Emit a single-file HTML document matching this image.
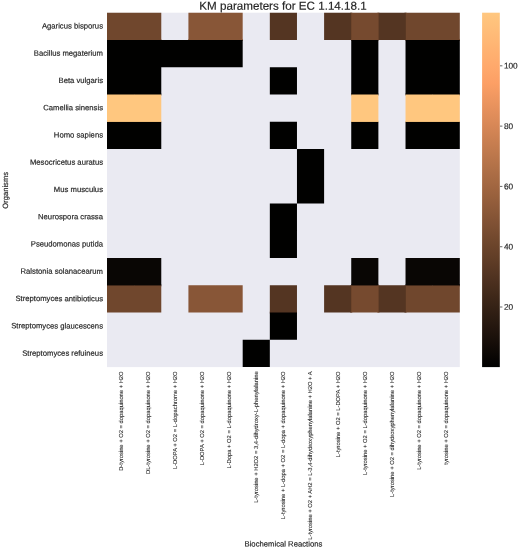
<!DOCTYPE html><html><head><meta charset="utf-8"><style>html,body{margin:0;padding:0;background:#fff}svg{display:block}text{font-family:"Liberation Sans",sans-serif;fill:#262626;text-rendering:geometricPrecision}</style></head><body>
<svg width="520" height="548" viewBox="0 0 520 548">
<rect width="520" height="548" fill="#fff"/>
<rect x="107.00" y="12.70" width="352.80" height="354.40" fill="#eaeaf2"/>
<rect x="107.00" y="38.96" width="27.14" height="2" fill="#70472d"/>
<rect x="134.14" y="38.96" width="27.14" height="2" fill="#70472d"/>
<rect x="188.42" y="38.96" width="27.14" height="2" fill="#885637"/>
<rect x="215.55" y="38.96" width="27.14" height="2" fill="#885637"/>
<rect x="350.25" y="12.70" width="2" height="27.26" fill="#543522"/>
<rect x="377.38" y="12.70" width="2" height="27.26" fill="#764a2f"/>
<rect x="351.25" y="38.96" width="27.14" height="2" fill="#764a2f"/>
<rect x="404.52" y="12.70" width="2" height="27.26" fill="#543522"/>
<rect x="405.52" y="38.96" width="27.14" height="2" fill="#70472d"/>
<rect x="432.66" y="38.96" width="27.14" height="2" fill="#70472d"/>
<rect x="107.00" y="93.48" width="27.14" height="2" fill="#010100"/>
<rect x="134.14" y="93.48" width="27.14" height="2" fill="#010100"/>
<rect x="351.25" y="93.48" width="27.14" height="2" fill="#010100"/>
<rect x="405.52" y="93.48" width="27.14" height="2" fill="#010100"/>
<rect x="432.66" y="93.48" width="27.14" height="2" fill="#010100"/>
<rect x="107.00" y="120.75" width="27.14" height="2" fill="#ffc77f"/>
<rect x="134.14" y="120.75" width="27.14" height="2" fill="#ffc77f"/>
<rect x="351.25" y="120.75" width="27.14" height="2" fill="#ffc77f"/>
<rect x="405.52" y="120.75" width="27.14" height="2" fill="#ffc77f"/>
<rect x="432.66" y="120.75" width="27.14" height="2" fill="#ffc77f"/>
<rect x="107.00" y="284.32" width="27.14" height="2" fill="#090604"/>
<rect x="134.14" y="284.32" width="27.14" height="2" fill="#090604"/>
<rect x="351.25" y="284.32" width="27.14" height="2" fill="#090604"/>
<rect x="405.52" y="284.32" width="27.14" height="2" fill="#090604"/>
<rect x="432.66" y="284.32" width="27.14" height="2" fill="#090604"/>
<rect x="269.83" y="311.58" width="27.14" height="2" fill="#543522"/>
<rect x="350.25" y="285.32" width="2" height="27.26" fill="#543522"/>
<rect x="377.38" y="285.32" width="2" height="27.26" fill="#764a2f"/>
<rect x="404.52" y="285.32" width="2" height="27.26" fill="#543522"/>
<path d="M107.000 12.700H134.138V39.962H107.000ZM134.138 12.700H161.277V39.962H134.138ZM405.523 12.700H432.662V39.962H405.523ZM432.662 12.700H459.800V39.962H432.662ZM107.000 285.315H134.138V312.577H107.000ZM134.138 285.315H161.277V312.577H134.138ZM405.523 285.315H432.662V312.577H405.523ZM432.662 285.315H459.800V312.577H432.662Z" fill="#70472d"/>
<path d="M188.415 12.700H215.554V39.962H188.415ZM215.554 12.700H242.692V39.962H215.554ZM188.415 285.315H215.554V312.577H188.415ZM215.554 285.315H242.692V312.577H215.554Z" fill="#885637"/>
<path d="M269.831 12.700H296.969V39.962H269.831ZM324.108 12.700H351.246V39.962H324.108ZM378.385 12.700H405.523V39.962H378.385ZM269.831 285.315H296.969V312.577H269.831ZM324.108 285.315H351.246V312.577H324.108ZM378.385 285.315H405.523V312.577H378.385Z" fill="#543522"/>
<path d="M351.246 12.700H378.385V39.962H351.246ZM351.246 285.315H378.385V312.577H351.246Z" fill="#764a2f"/>
<path d="M107.000 39.962H134.138V67.223H107.000ZM134.138 39.962H161.277V67.223H134.138ZM161.277 39.962H188.415V67.223H161.277ZM188.415 39.962H215.554V67.223H188.415ZM215.554 39.962H242.692V67.223H215.554ZM351.246 39.962H378.385V67.223H351.246ZM405.523 39.962H432.662V67.223H405.523ZM432.662 39.962H459.800V67.223H432.662ZM107.000 67.223H134.138V94.485H107.000ZM134.138 67.223H161.277V94.485H134.138ZM269.831 67.223H296.969V94.485H269.831ZM351.246 67.223H378.385V94.485H351.246ZM405.523 67.223H432.662V94.485H405.523ZM432.662 67.223H459.800V94.485H432.662ZM107.000 121.746H134.138V149.008H107.000ZM134.138 121.746H161.277V149.008H134.138ZM269.831 121.746H296.969V149.008H269.831ZM351.246 121.746H378.385V149.008H351.246ZM405.523 121.746H432.662V149.008H405.523ZM432.662 121.746H459.800V149.008H432.662ZM296.969 149.008H324.108V176.269H296.969ZM296.969 176.269H324.108V203.531H296.969ZM269.831 203.531H296.969V230.792H269.831ZM269.831 230.792H296.969V258.054H269.831ZM269.831 312.577H296.969V339.838H269.831ZM242.692 339.838H269.831V367.100H242.692Z" fill="#010100"/>
<path d="M107.000 94.485H134.138V121.746H107.000ZM134.138 94.485H161.277V121.746H134.138ZM351.246 94.485H378.385V121.746H351.246ZM405.523 94.485H432.662V121.746H405.523ZM432.662 94.485H459.800V121.746H432.662Z" fill="#ffc77f"/>
<path d="M107.000 258.054H134.138V285.315H107.000ZM134.138 258.054H161.277V285.315H134.138ZM351.246 258.054H378.385V285.315H351.246ZM405.523 258.054H432.662V285.315H405.523ZM432.662 258.054H459.800V285.315H432.662Z" fill="#090604"/>
<defs><linearGradient id="cb" x1="0" y1="1" x2="0" y2="0">
<stop offset="0.000" stop-color="#000000"/>
<stop offset="0.050" stop-color="#100a06"/>
<stop offset="0.100" stop-color="#20140d"/>
<stop offset="0.150" stop-color="#2f1e13"/>
<stop offset="0.200" stop-color="#3f2819"/>
<stop offset="0.250" stop-color="#4f3220"/>
<stop offset="0.300" stop-color="#5f3c26"/>
<stop offset="0.350" stop-color="#6e462c"/>
<stop offset="0.400" stop-color="#7e5033"/>
<stop offset="0.450" stop-color="#8e5a39"/>
<stop offset="0.500" stop-color="#9e643f"/>
<stop offset="0.550" stop-color="#ad6e46"/>
<stop offset="0.600" stop-color="#bd784c"/>
<stop offset="0.650" stop-color="#cd8152"/>
<stop offset="0.700" stop-color="#dd8b59"/>
<stop offset="0.750" stop-color="#ec955f"/>
<stop offset="0.800" stop-color="#fc9f65"/>
<stop offset="0.850" stop-color="#ffa96c"/>
<stop offset="0.900" stop-color="#ffb372"/>
<stop offset="0.950" stop-color="#ffbd79"/>
<stop offset="1.000" stop-color="#ffc77f"/>
</linearGradient></defs>
<rect x="482.10" y="12.70" width="17.70" height="354.40" fill="url(#cb)"/>
<g opacity="0.999">
<line x1="500.00" x2="502.40" y1="307.01" y2="307.01" stroke="#262626" stroke-width="0.7"/>
<text transform="translate(503.90,309.81) rotate(0.03)" font-size="8.25" stroke="#262626" stroke-width="0.18">20</text>
<line x1="500.00" x2="502.40" y1="246.72" y2="246.72" stroke="#262626" stroke-width="0.7"/>
<text transform="translate(503.90,249.52) rotate(0.03)" font-size="8.25" stroke="#262626" stroke-width="0.18">40</text>
<line x1="500.00" x2="502.40" y1="186.42" y2="186.42" stroke="#262626" stroke-width="0.7"/>
<text transform="translate(503.90,189.22) rotate(0.03)" font-size="8.25" stroke="#262626" stroke-width="0.18">60</text>
<line x1="500.00" x2="502.40" y1="126.12" y2="126.12" stroke="#262626" stroke-width="0.7"/>
<text transform="translate(503.90,128.92) rotate(0.03)" font-size="8.25" stroke="#262626" stroke-width="0.18">80</text>
<line x1="500.00" x2="502.40" y1="65.82" y2="65.82" stroke="#262626" stroke-width="0.7"/>
<text transform="translate(503.90,68.62) rotate(0.03)" font-size="8.25" stroke="#262626" stroke-width="0.18">100</text>
<text transform="translate(283.00,9.8) rotate(0.03)" font-size="11.64" text-anchor="middle" stroke="#262626" stroke-width="0.18">KM parameters for EC 1.14.18.1</text>
<text transform="translate(103.00,28.53) rotate(0.03)" font-size="7.7" text-anchor="end" stroke="#262626" stroke-width="0.18">Agaricus bisporus</text>
<text transform="translate(103.00,55.79) rotate(0.03)" font-size="7.7" text-anchor="end" stroke="#262626" stroke-width="0.18">Bacillus megaterium</text>
<text transform="translate(103.00,83.05) rotate(0.03)" font-size="7.7" text-anchor="end" stroke="#262626" stroke-width="0.18">Beta vulgaris</text>
<text transform="translate(103.00,110.32) rotate(0.03)" font-size="7.7" text-anchor="end" stroke="#262626" stroke-width="0.18">Camellia sinensis</text>
<text transform="translate(103.00,137.58) rotate(0.03)" font-size="7.7" text-anchor="end" stroke="#262626" stroke-width="0.18">Homo sapiens</text>
<text transform="translate(103.00,164.84) rotate(0.03)" font-size="7.7" text-anchor="end" stroke="#262626" stroke-width="0.18">Mesocricetus auratus</text>
<text transform="translate(103.00,192.10) rotate(0.03)" font-size="7.7" text-anchor="end" stroke="#262626" stroke-width="0.18">Mus musculus</text>
<text transform="translate(103.00,219.36) rotate(0.03)" font-size="7.7" text-anchor="end" stroke="#262626" stroke-width="0.18">Neurospora crassa</text>
<text transform="translate(103.00,246.62) rotate(0.03)" font-size="7.7" text-anchor="end" stroke="#262626" stroke-width="0.18">Pseudomonas putida</text>
<text transform="translate(103.00,273.88) rotate(0.03)" font-size="7.7" text-anchor="end" stroke="#262626" stroke-width="0.18">Ralstonia solanacearum</text>
<text transform="translate(103.00,301.15) rotate(0.03)" font-size="7.7" text-anchor="end" stroke="#262626" stroke-width="0.18">Streptomyces antibioticus</text>
<text transform="translate(103.00,328.41) rotate(0.03)" font-size="7.7" text-anchor="end" stroke="#262626" stroke-width="0.18">Streptomyces glaucescens</text>
<text transform="translate(103.00,355.67) rotate(0.03)" font-size="7.7" text-anchor="end" stroke="#262626" stroke-width="0.18">Streptomyces refuineus</text>
<text transform="translate(122.52,371.40) rotate(-90)" font-size="5.8" stroke="#262626" stroke-width="0.08" text-anchor="end">D-tyrosine + O2 = dopaquinone + H2O</text>
<text transform="translate(149.66,371.40) rotate(-90)" font-size="5.8" stroke="#262626" stroke-width="0.08" text-anchor="end">DL-tyrosine + O2 = dopaquinone + H2O</text>
<text transform="translate(176.80,371.40) rotate(-90)" font-size="5.8" stroke="#262626" stroke-width="0.08" text-anchor="end">L-DOPA + O2 = L-dopachrome + H2O</text>
<text transform="translate(203.93,371.40) rotate(-90)" font-size="5.8" stroke="#262626" stroke-width="0.08" text-anchor="end">L-DOPA + O2 = dopaquinone + H2O</text>
<text transform="translate(231.07,371.40) rotate(-90)" font-size="5.8" stroke="#262626" stroke-width="0.08" text-anchor="end">L-Dopa + O2 = L-dopaquinone + H2O</text>
<text transform="translate(258.21,371.40) rotate(-90)" font-size="5.8" stroke="#262626" stroke-width="0.08" text-anchor="end">L-tyrosine + H2O2 = 3,4-dihydroxy-L-phenylalanine</text>
<text transform="translate(285.35,371.40) rotate(-90)" font-size="5.8" stroke="#262626" stroke-width="0.08" text-anchor="end">L-tyrosine + L-dopa + O2 = L-dopa + dopaquinone + H2O</text>
<text transform="translate(312.49,371.40) rotate(-90)" font-size="5.8" stroke="#262626" stroke-width="0.08" text-anchor="end">L-tyrosine + O2 + AH2 = L-3,4-dihydroxyphenylalanine + H2O + A</text>
<text transform="translate(339.63,371.40) rotate(-90)" font-size="5.8" stroke="#262626" stroke-width="0.08" text-anchor="end">L-tyrosine + O2 = L-DOPA + H2O</text>
<text transform="translate(366.77,371.40) rotate(-90)" font-size="5.8" stroke="#262626" stroke-width="0.08" text-anchor="end">L-tyrosine + O2 = L-dopaquinone + H2O</text>
<text transform="translate(393.90,371.40) rotate(-90)" font-size="5.8" stroke="#262626" stroke-width="0.08" text-anchor="end">L-tyrosine + O2 = dihydroxyphenylalanine + H2O</text>
<text transform="translate(421.04,371.40) rotate(-90)" font-size="5.8" stroke="#262626" stroke-width="0.08" text-anchor="end">L-tyrosine + O2 = dopaquinone + H2O</text>
<text transform="translate(448.18,371.40) rotate(-90)" font-size="5.8" stroke="#262626" stroke-width="0.08" text-anchor="end">tyrosine + O2 = dopaquinone + H2O</text>
<text transform="translate(7.60,190.35) rotate(-90)" font-size="7.65" text-anchor="middle" stroke="#262626" stroke-width="0.18">Organisms</text>
<text transform="translate(283.40,546.50) rotate(0.03)" font-size="7.7" text-anchor="middle" stroke="#262626" stroke-width="0.18">Biochemical Reactions</text>
</g>
</svg></body></html>
